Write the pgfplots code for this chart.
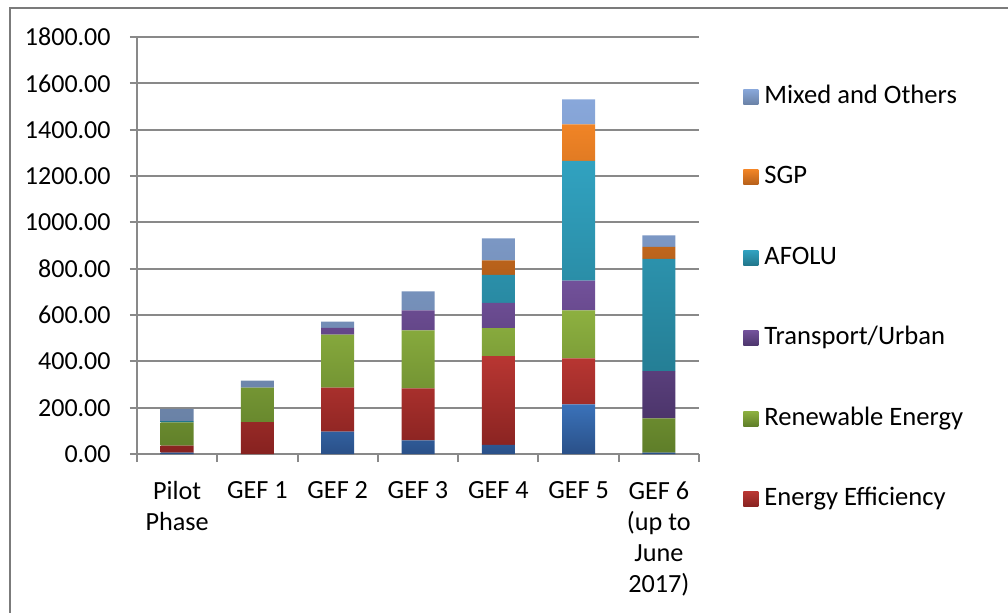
\documentclass[border=0pt]{standalone}
\usepackage{fontspec}
\setmainfont{Carlito}
\usepackage{pgfplots}
\pgfplotsset{compat=1.18}
\definecolor{gridc}{HTML}{898989}
\definecolor{bluet}{HTML}{3A72BA}\definecolor{blueb}{HTML}{2A5088}
\definecolor{redt}{HTML}{B83632}\definecolor{redb}{HTML}{862220}
\definecolor{greent}{HTML}{8DB040}\definecolor{greenb}{HTML}{5F7E29}
\definecolor{purplet}{HTML}{72519A}\definecolor{purpleb}{HTML}{4C356B}
\definecolor{tealt}{HTML}{31A2C0}\definecolor{tealb}{HTML}{22768B}
\definecolor{oranget}{HTML}{F08426}\definecolor{orangeb}{HTML}{B45F1A}
\definecolor{mixt}{HTML}{88A7DA}\definecolor{mixb}{HTML}{6A82A6}
\begin{document}
\begin{tikzpicture}
\begin{axis}[
  at={(0,0)}, anchor=south west,
  scale only axis, width=281pt, height=208.5pt,
  ybar stacked, bar width=16.5pt,
  xmin=-0.5, xmax=6.5, ymin=0, ymax=1800,
  xtick={0,...,6},
  xticklabels={{Pilot\\Phase},{GEF 1},{GEF 2},{GEF 3},{GEF 4},{GEF 5},{GEF 6\\(up to\\June\\2017)}},
  xticklabel style={align=center, anchor=north, inner sep=0pt, yshift=-10pt,
    font=\fontsize{13.1pt}{15.6pt}\selectfont},
  major x tick style={draw=none},
  minor xtick={-0.5,0.5,...,6.5},
  minor x tick style={draw=gridc, line width=1pt},
  ytick={0,200,...,1800},
  yticklabel style={anchor=east, inner sep=0pt, xshift=-9.5pt, font=\fontsize{13pt}{15.5pt}\selectfont},
  /pgf/number format/.cd, fixed, fixed zerofill, precision=2, 1000 sep={}, assume math mode=true,
  /pgfplots/.cd,
  tick align=outside, major tick length=3.5pt, minor tick length=4pt,
  major y tick style={draw=gridc, line width=1pt},
  ymajorgrids, grid style={draw=gridc, line width=1pt},
  axis line style={draw=gridc, line width=1pt},
  axis x line*=bottom, axis y line*=left,
  clip=false,
  reverse legend,
  legend style={draw=none, fill=none, at={(1.0676,0.8993)}, anchor=north west,
    font=\fontsize{13.3pt}{15.5pt}\selectfont, row sep=26.75pt,
    nodes={inner sep=0pt, text height=10pt, text depth=3.5pt}},
  legend cell align=left,
  legend image code/.code={\path[#1] (0pt,-3.75pt) rectangle (7.5pt,3.75pt);},
]
\addplot[draw=none, top color=bluet, bottom color=blueb, forget plot] coordinates {(0,6) (1,0) (2,97) (3,59) (4,39) (5,214) (6,6)};
\addplot[draw=none, top color=redt, bottom color=redb] coordinates {(0,30) (1,138) (2,189) (3,224) (4,383) (5,199) (6,0)};
\addlegendentry{\ Energy Efficiency}
\addplot[draw=none, top color=greent, bottom color=greenb] coordinates {(0,101) (1,148) (2,229) (3,251) (4,121) (5,207) (6,148)};
\addlegendentry{\ Renewable Energy}
\addplot[draw=none, top color=purplet, bottom color=purpleb] coordinates {(0,0) (1,0) (2,29) (3,86) (4,109) (5,128) (6,204)};
\addlegendentry{\ Transport/Urban}
\addplot[draw=none, top color=tealt, bottom color=tealb] coordinates {(0,5) (1,0) (2,0) (3,0) (4,121) (5,517) (6,484)};
\addlegendentry{\ AFOLU}
\addplot[draw=none, top color=oranget, bottom color=orangeb] coordinates {(0,0) (1,0) (2,0) (3,0) (4,63) (5,158) (6,52)};
\addlegendentry{\ SGP}
\addplot[draw=none, top color=mixt, bottom color=mixb] coordinates {(0,53) (1,31) (2,27) (3,82) (4,95) (5,108) (6,50)};
\addlegendentry{\ Mixed and Others}
\end{axis}
\pgfresetboundingbox
\useasboundingbox (-68.5pt,-79pt) rectangle (435.5pt,227pt);
\draw[color=gridc!90!black, line width=0.75pt] (-63.5pt,-80pt) -- (-63.5pt,223pt) -- (436pt,223pt);
\end{tikzpicture}
\end{document}
